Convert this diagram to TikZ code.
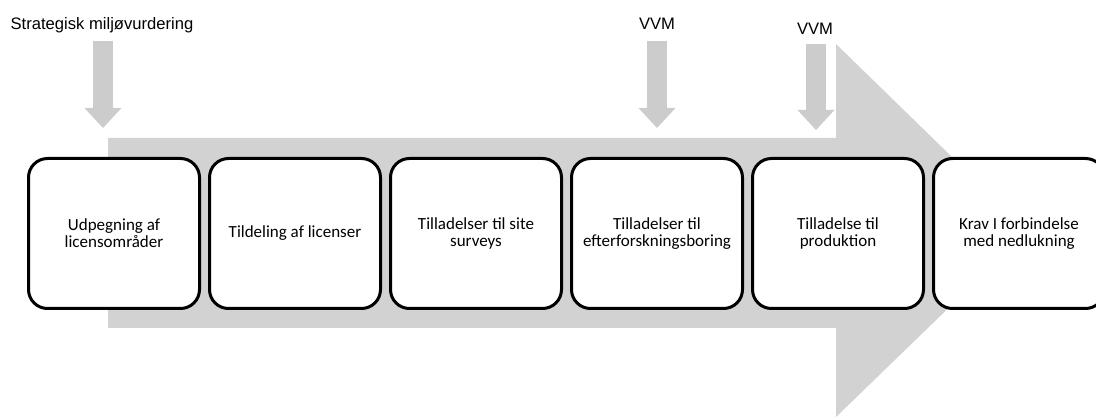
\documentclass[tikz,border=0pt]{standalone}
\usepackage{fontspec}
\setmainfont{Carlito}
\newfontfamily\arialfont{Liberation Sans}
\usetikzlibrary{positioning,arrows.meta}
\tikzset{
stage/.style={draw=black,line width=3pt,fill=white,rounded corners=19pt,minimum width=171pt,minimum height=150pt,inner sep=0pt,align=center,font=\fontsize{17}{17}\selectfont},
lbl/.style={inner sep=0pt,font=\arialfont\fontsize{16.6}{19}\selectfont},
push/.style={draw=gray!40,line width=20pt,-{Triangle[width=37pt,length=20pt,line width=0pt]}}
}
\begin{document}
\begin{tikzpicture}[x=1pt,y=-1pt]
\useasboundingbox(0,0)rectangle(1096,419);
% big process arrow
\fill[gray!35](108,138)--(836,138)--(836,44)--(1028,231)--(836,417)--(836,328)--(108,328)--cycle;
\node[stage](s1)at(114,233.5){Udpegning af\\licensområder};
\node[stage,right=7pt of s1](s2){Tildeling af licenser};
\node[stage,right=7pt of s2](s3){Tilladelser til site\\surveys};
\node[stage,right=7pt of s3](s4){Tilladelser til\\efterforskningsboring};
\node[stage,right=7pt of s4](s5){Tilladelse til\\produktion};
\node[stage,right=7pt of s5](s6){Krav I forbindelse\\med nedlukning};
% assessments
\node[lbl](sm)at(102,25){Strategisk miljøvurdering};
\node[lbl](v1)at(657,24){VVM};
\node[lbl](v2)at(815,29){VVM};
\coordinate(a1)at(103,41);\coordinate(b1)at(103,128);
\coordinate(a2)at(657,41);\coordinate(b2)at(657,128);
\coordinate(a3)at(816,44);\coordinate(b3)at(816,130);
\draw[push](a1)--(b1);
\draw[push](a2)--(b2);
\draw[push](a3)--(b3);
\end{tikzpicture}
\end{document}
